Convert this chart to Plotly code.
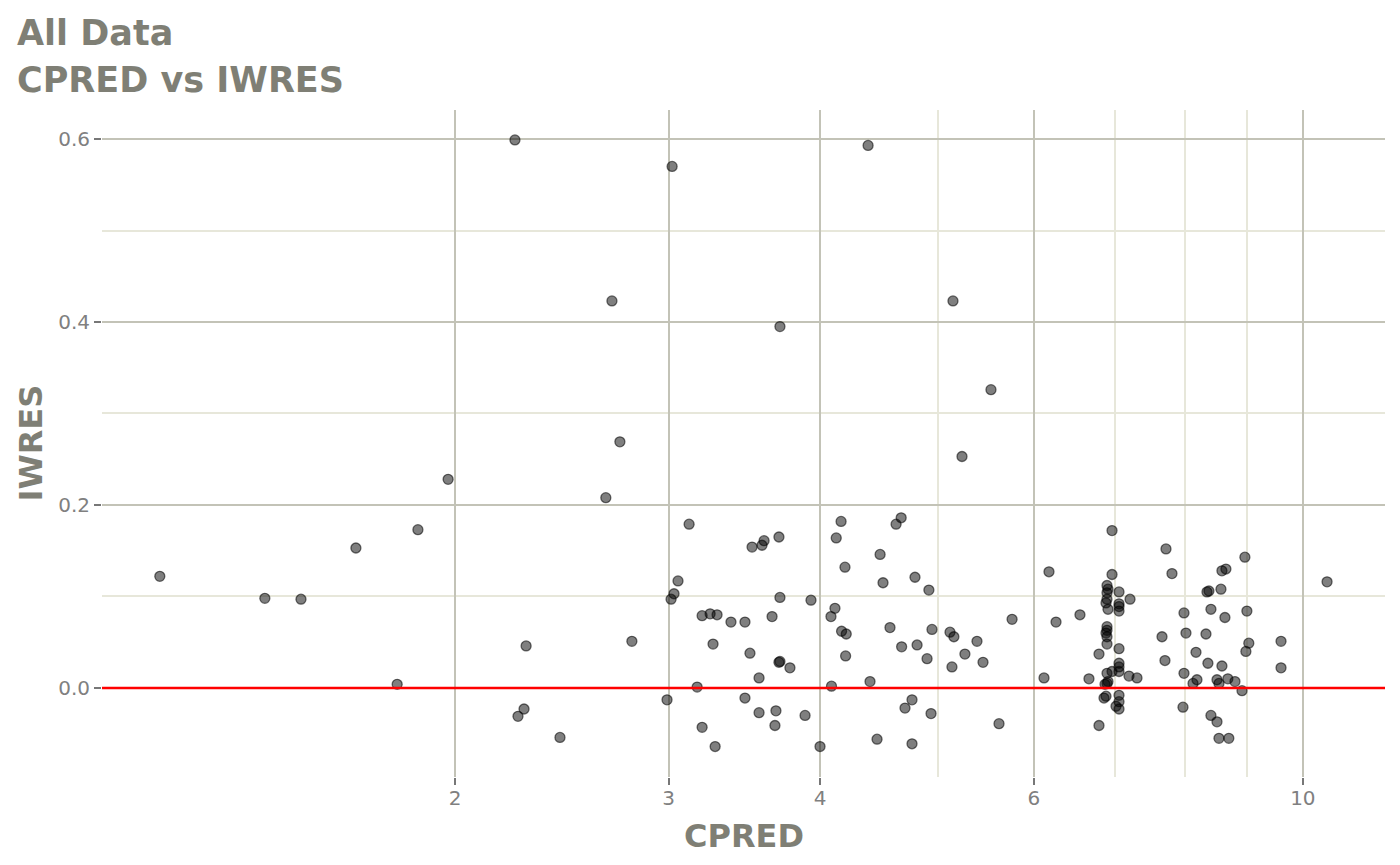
import plotly.graph_objects as go

cpred = [
    1.142, 1.394, 1.493, 1.657, 1.792, 1.864, 1.974, 2.241, 2.254, 2.280,
    2.289, 2.441, 2.663, 2.694, 2.735, 2.798, 2.991, 3.014, 3.020, 3.031,
    3.054, 3.119, 3.167, 3.197, 3.197, 3.246, 3.264, 3.277, 3.289, 3.377,
    3.468, 3.468, 3.501, 3.515, 3.562, 3.582, 3.562, 3.596, 3.651, 3.671,
    3.678, 3.699, 3.706, 3.699, 3.706, 3.706, 3.777, 3.887, 3.931, 3.999,
    4.083, 4.114, 4.087, 4.162, 4.124, 4.166, 4.203, 4.193, 4.198, 4.381,
    4.397, 4.456, 4.482, 4.507, 4.567, 4.620, 4.665, 4.669, 4.699, 4.762,
    4.762, 4.789, 4.808, 4.900, 4.917, 4.937, 4.946, 5.118, 5.147, 5.156,
    5.137, 5.236, 5.265, 5.387, 5.449, 5.532, 5.617, 5.758, 6.118, 6.176,
    6.259, 6.550, 6.663, 6.791, 6.791, 6.961, 6.961, 6.895, 6.908, 6.895,
    7.054, 7.203, 6.895, 6.882, 6.908, 7.054, 7.054, 7.054, 6.895, 6.895,
    6.882, 6.895, 6.895, 7.054, 7.054, 7.054, 7.054, 6.895, 6.961, 7.189,
    7.299, 6.895, 6.908, 6.869, 6.882, 6.856, 7.054, 7.054, 7.014, 7.054,
    7.712, 7.800, 8.576, 8.641, 8.958, 8.336, 8.367, 8.560, 10.47, 7.980,
    8.399, 8.625, 8.992, 7.654, 8.010, 8.320, 9.025, 8.975, 9.594, 8.164,
    7.697, 8.351, 8.576, 9.594, 7.980, 8.179, 8.118, 8.496, 8.528, 8.673,
    8.791, 8.909, 7.965, 8.399, 8.496, 8.528, 8.689,
]

iwres = [
    0.122, 0.098, 0.097, 0.153, 0.004, 0.173, 0.228, 0.599, -0.031, -0.023,
    0.046, -0.054, 0.208, 0.423, 0.269, 0.051, -0.013, 0.097, 0.570, 0.103,
    0.117, 0.179, 0.001, 0.079, -0.043, 0.081, 0.048, -0.064, 0.080, 0.072,
    0.072, -0.011, 0.038, 0.154, 0.011, 0.156, -0.027, 0.161, 0.078, -0.041,
    -0.025, 0.028, 0.029, 0.165, 0.395, 0.099, 0.022, -0.030, 0.096, -0.064,
    0.078, 0.087, 0.002, 0.182, 0.164, 0.062, 0.059, 0.132, 0.035, 0.593,
    0.007, -0.056, 0.146, 0.115, 0.066, 0.179, 0.186, 0.045, -0.022, -0.013,
    -0.061, 0.121, 0.047, 0.032, 0.107, -0.028, 0.064, 0.061, 0.423, 0.056,
    0.023, 0.253, 0.037, 0.051, 0.028, 0.326, -0.039, 0.075, 0.011, 0.127,
    0.072, 0.080, 0.010, 0.037, -0.041, 0.172, 0.124, 0.112, 0.108, 0.104,
    0.105, 0.097, 0.097, 0.093, 0.086, 0.092, 0.089, 0.084, 0.067, 0.063,
    0.060, 0.056, 0.048, 0.043, 0.027, 0.023, 0.018, 0.016, 0.018, 0.013,
    0.011, 0.005, 0.007, 0.004, -0.009, -0.011, -0.008, -0.015, -0.020, -0.023,
    0.152, 0.125, 0.128, 0.130, 0.143, 0.105, 0.106, 0.108, 0.116, 0.082,
    0.086, 0.077, 0.084, 0.056, 0.060, 0.059, 0.049, 0.040, 0.051, 0.039,
    0.030, 0.027, 0.024, 0.022, 0.016, 0.009, 0.005, 0.009, 0.005, 0.010,
    0.007, -0.003, -0.021, -0.030, -0.037, -0.055, -0.055,
]

title_lines = ["All Data", "CPRED vs IWRES"]
x_title = "CPRED"
y_title = "IWRES"
x_ticks = [2, 3, 4, 6, 10]
x_tick_labels = ["2", "3", "4", "6", "10"]
x_minor = [5, 7, 8, 9]
y_ticks = [0.0, 0.2, 0.4, 0.6]
y_tick_labels = ["0.0", "0.2", "0.4", "0.6"]
y_minor = [0.1, 0.3, 0.5]
ref_line = 0.0

TITLE_COLOR = "#7f7f75"
TICK_COLOR = "#808080"
MAJOR_GRID = "#c3c3b7"
MINOR_GRID = "#e7e7da"
FONT = "DejaVu Sans"

# the page body adds an 8px offset; lay the figure out in page pixels
OFF = 8
W, H = 1400 - OFF, 865 - OFF
L, R, T, B = 102 - OFF, 15, 110 - OFF, 88
PW, PH = W - L - R, H - T - B


def px_x(p):  # page pixel -> paper x
    return (p - OFF - L) / PW


def px_y(p):  # page pixel -> paper y
    return 1 - (p - OFF - T) / PH


fig = go.Figure()
fig.add_trace(go.Scatter(
    x=cpred, y=iwres, mode="markers",
    marker=dict(size=10, color="rgba(0,0,0,0.5)",
                line=dict(color="rgba(0,0,0,0.55)", width=1.3)),
    showlegend=False,
))

fig.add_shape(type="line", xref="paper", x0=0, x1=1, yref="y", y0=ref_line, y1=ref_line,
              line=dict(color="#ff0000", width=2.5), layer="above")

bold = dict(family=FONT, color=TITLE_COLOR, weight="bold")
fig.add_annotation(text=title_lines[0], xref="paper", yref="paper",
                   x=px_x(15), y=px_y(33), xanchor="left", yanchor="middle",
                   showarrow=False, font=dict(size=35, **bold))
fig.add_annotation(text=title_lines[1], xref="paper", yref="paper",
                   x=px_x(15), y=px_y(80), xanchor="left", yanchor="middle",
                   showarrow=False, font=dict(size=35, **bold))
fig.add_annotation(text=x_title, xref="paper", yref="paper",
                   x=0.5, y=px_y(836), xanchor="center", yanchor="middle",
                   showarrow=False, font=dict(size=32, **bold))
fig.add_annotation(text=y_title, xref="paper", yref="paper", textangle=-90,
                   x=px_x(30), y=0.5, xanchor="center", yanchor="middle",
                   showarrow=False, font=dict(size=32, **bold))

fig.update_layout(
    width=W, height=H,
    margin=dict(l=L, r=R, t=T, b=B, autoexpand=False),
    paper_bgcolor="white", plot_bgcolor="white",
    font=dict(family=FONT, color=TICK_COLOR),
)

fig.update_xaxes(
    type="log", range=[0.01001, 1.06772], automargin=False,
    tickmode="array", tickvals=x_ticks, ticktext=x_tick_labels,
    tickfont=dict(size=20, color=TICK_COLOR, family=FONT),
    ticks="outside", ticklen=7, tickwidth=2, tickcolor="#777777",
    ticklabelstandoff=-4,
    showgrid=True, gridcolor=MAJOR_GRID, gridwidth=2,
    minor=dict(tickmode="array", tickvals=x_minor, showgrid=True,
               gridcolor=MINOR_GRID, gridwidth=2, ticks=""),
    showline=False, zeroline=False,
)

fig.update_yaxes(
    range=[-0.0973, 0.6317], automargin=False,
    tickmode="array", tickvals=y_ticks, ticktext=y_tick_labels,
    tickfont=dict(size=20, color=TICK_COLOR, family=FONT),
    ticks="outside", ticklen=7, tickwidth=2, tickcolor="#777777",
    showgrid=True, gridcolor=MAJOR_GRID, gridwidth=2,
    minor=dict(tickmode="array", tickvals=y_minor, showgrid=True,
               gridcolor=MINOR_GRID, gridwidth=2, ticks=""),
    showline=False, zeroline=False,
)

fig.write_html("out.html")
